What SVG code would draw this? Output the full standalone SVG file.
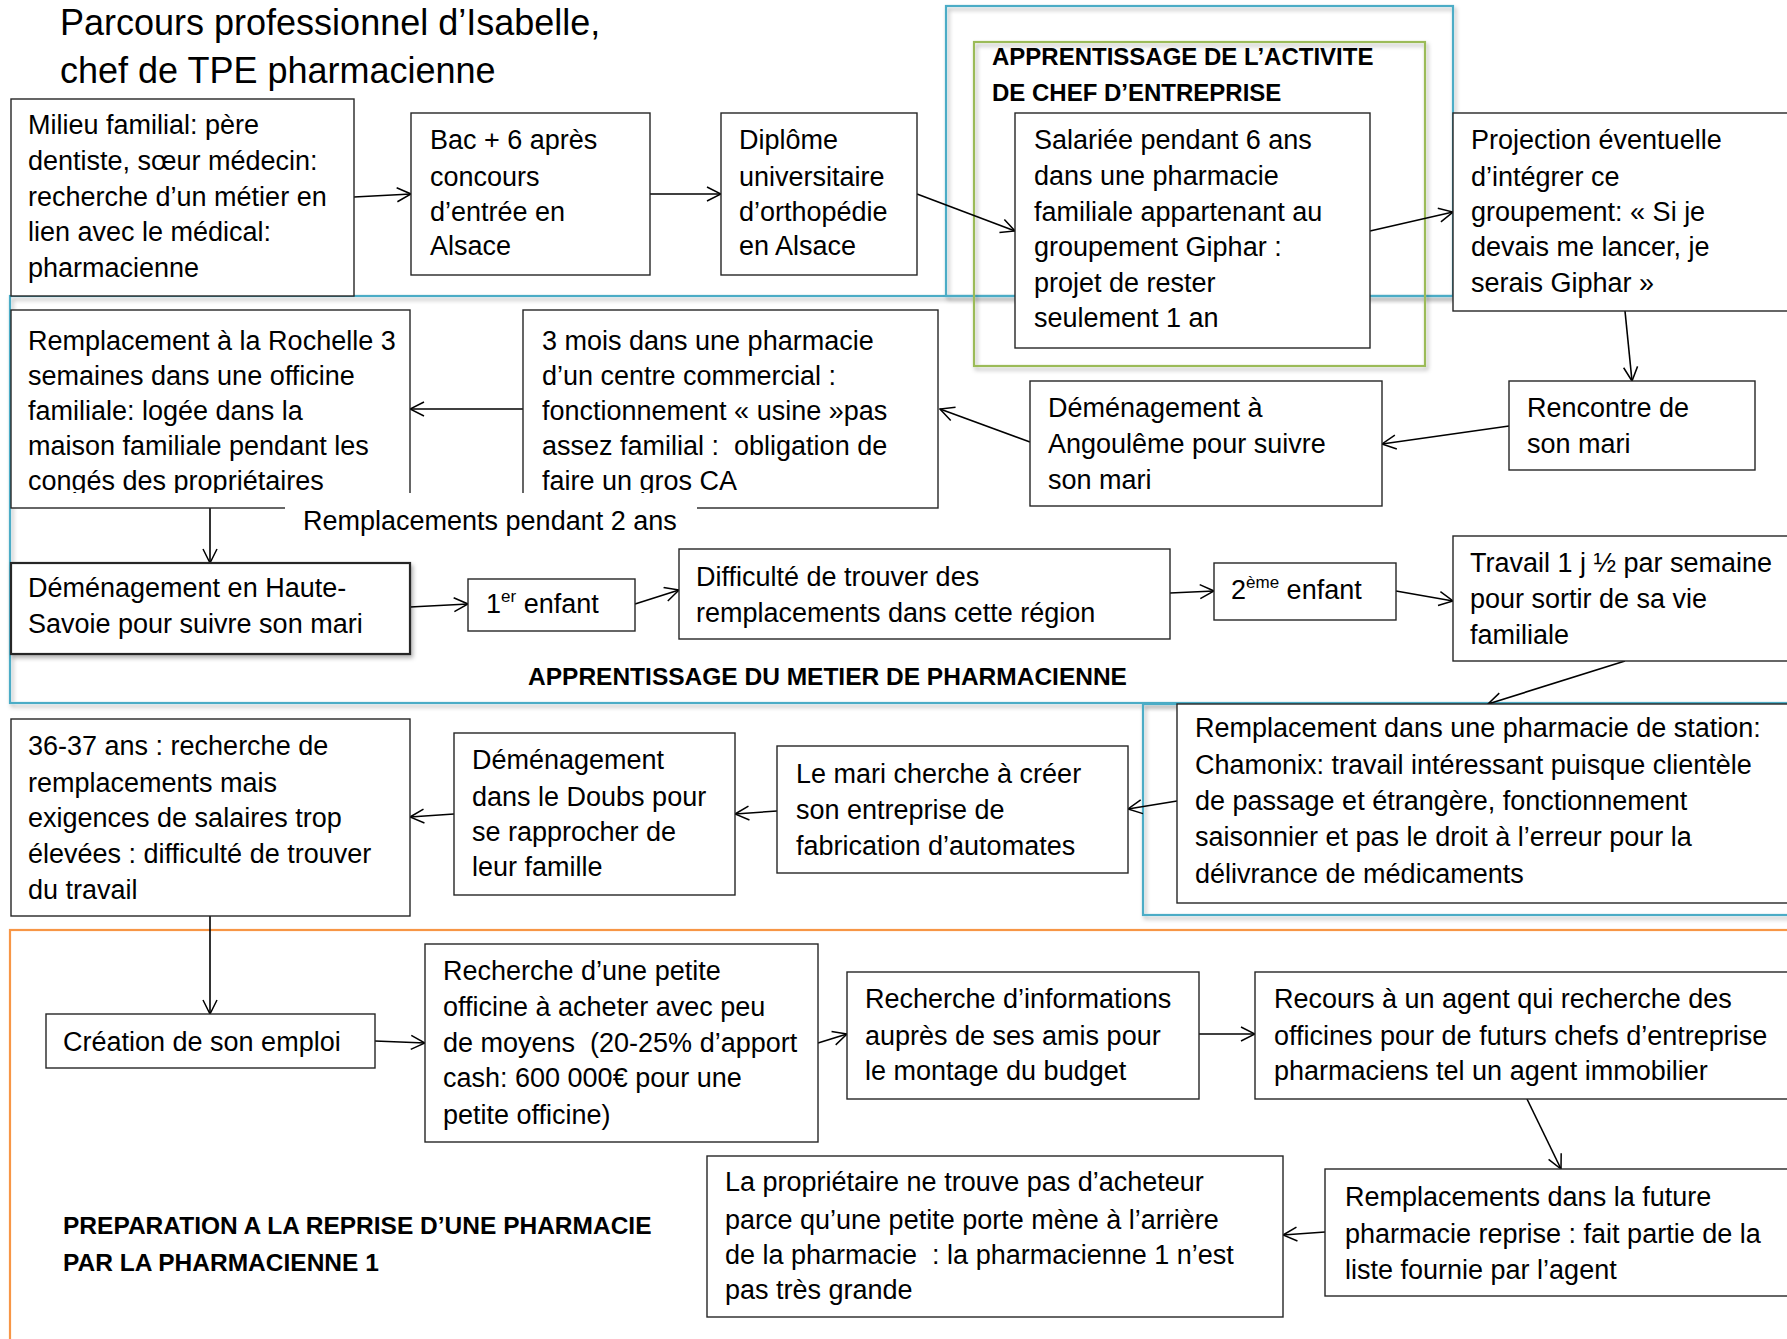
<svg xmlns="http://www.w3.org/2000/svg" width="1787" height="1339" viewBox="0 0 1787 1339">
<style>
.box{fill:#fff;stroke:#262626;stroke-width:1.4}
.t{font-family:"Liberation Sans",Arial,sans-serif;font-size:27px;fill:#000;white-space:pre}
.b{font-family:"Liberation Sans",Arial,sans-serif;font-size:24px;font-weight:bold;fill:#000}
.title{font-family:"Liberation Sans",Arial,sans-serif;font-size:36px;fill:#000}
.conn{stroke:#000;stroke-width:1.6;fill:none;marker-end:url(#arr)}
.blue{fill:none;stroke:#4bacc6;stroke-width:2.2}
.green{fill:none;stroke:#9bbb59;stroke-width:2.2}
.orange{fill:none;stroke:#f79646;stroke-width:2.2}
</style>
<defs>
<marker id="arr" viewBox="0 0 16 16" refX="15" refY="8" markerWidth="16" markerHeight="16" markerUnits="userSpaceOnUse" orient="auto">
<path d="M1,1 L15,8 L1,15" fill="none" stroke="#000" stroke-width="1.5"/>
</marker>
<filter id="sh" x="-5%" y="-5%" width="110%" height="115%">
<feDropShadow dx="2" dy="3" stdDeviation="2" flood-color="#000" flood-opacity="0.3"/>
</filter>
</defs>
<rect width="1787" height="1339" fill="#fff"/>

<g id="sections">
<rect class="blue" x="10" y="296" width="1800" height="407" filter="url(#sh)"/>
<rect class="blue" x="946" y="6" width="507" height="290" filter="url(#sh)"/>
<rect class="green" x="974" y="42" width="451" height="324" filter="url(#sh)"/>
<rect class="blue" x="1143" y="704" width="700" height="211" filter="url(#sh)"/>
<rect class="orange" x="10" y="930" width="1800" height="450"/>
</g>

<g id="title">
<text class="title" x="60" y="35">Parcours professionnel d’Isabelle,</text>
<text class="title" x="60" y="83">chef de TPE pharmacienne</text>
</g>

<g id="label-activite">
<text class="b" x="992" y="65">APPRENTISSAGE DE L’ACTIVITE</text>
<text class="b" x="992" y="101">DE CHEF D’ENTREPRISE</text>
</g>
<g id="label-metier">
<text class="b" x="528" y="685" style="font-size:24.5px">APPRENTISSAGE DU METIER DE PHARMACIENNE</text>
</g>
<g id="label-reprise">
<text class="b" x="63" y="1234" style="font-size:24.5px">PREPARATION A LA REPRISE D’UNE PHARMACIE</text>
<text class="b" x="63" y="1271" style="font-size:24.5px">PAR LA PHARMACIENNE 1</text>
</g>

<g id="connectors">
<line class="conn" x1="354" y1="197" x2="411" y2="194"/>
<line class="conn" x1="650" y1="194" x2="721" y2="194"/>
<line class="conn" x1="917" y1="194" x2="1015" y2="231"/>
<line class="conn" x1="1370" y1="231" x2="1453" y2="212"/>
<line class="conn" x1="1625" y1="311" x2="1632" y2="381"/>
<line class="conn" x1="1509" y1="426" x2="1382" y2="444"/>
<line class="conn" x1="1030" y1="442" x2="940" y2="409"/>
<line class="conn" x1="523" y1="409" x2="410" y2="409"/>
<line class="conn" x1="210" y1="508" x2="210" y2="563"/>
<line class="conn" x1="410" y1="607" x2="468" y2="604"/>
<line class="conn" x1="635" y1="604" x2="679" y2="590"/>
<line class="conn" x1="1170" y1="593" x2="1214" y2="591"/>
<line class="conn" x1="1396" y1="591" x2="1453" y2="601"/>
<line class="conn" x1="1625" y1="661" x2="1488" y2="704"/>
<line class="conn" x1="1177" y1="801" x2="1128" y2="809"/>
<line class="conn" x1="777" y1="811" x2="735" y2="814"/>
<line class="conn" x1="454" y1="814" x2="410" y2="817"/>
<line class="conn" x1="210" y1="916" x2="210" y2="1014"/>
<line class="conn" x1="375" y1="1041" x2="425" y2="1043"/>
<line class="conn" x1="818" y1="1043" x2="847" y2="1034"/>
<line class="conn" x1="1199" y1="1034" x2="1255" y2="1034"/>
<line class="conn" x1="1527" y1="1099" x2="1561" y2="1169"/>
<line class="conn" x1="1325" y1="1232" x2="1283" y2="1235"/>
</g>

<g id="n-milieu">
<rect class="box" x="11" y="99" width="343" height="197"/>
<text class="t"><tspan x="28" y="134">Milieu familial: père</tspan><tspan x="28" y="170">dentiste, sœur médecin:</tspan><tspan x="28" y="206">recherche d’un métier en</tspan><tspan x="28" y="241">lien avec le médical:</tspan><tspan x="28" y="277">pharmacienne</tspan></text>
</g>
<g id="n-bac">
<rect class="box" x="411" y="113" width="239" height="162"/>
<text class="t"><tspan x="430" y="149">Bac + 6 après</tspan><tspan x="430" y="186">concours</tspan><tspan x="430" y="221">d’entrée en</tspan><tspan x="430" y="255">Alsace</tspan></text>
</g>
<g id="n-diplome">
<rect class="box" x="721" y="113" width="196" height="162"/>
<text class="t"><tspan x="739" y="149">Diplôme</tspan><tspan x="739" y="186">universitaire</tspan><tspan x="739" y="221">d’orthopédie</tspan><tspan x="739" y="255">en Alsace</tspan></text>
</g>
<g id="n-salariee">
<rect class="box" x="1015" y="113" width="355" height="235"/>
<text class="t"><tspan x="1034" y="149">Salariée pendant 6 ans</tspan><tspan x="1034" y="185">dans une pharmacie</tspan><tspan x="1034" y="221">familiale appartenant au</tspan><tspan x="1034" y="256">groupement Giphar :</tspan><tspan x="1034" y="292">projet de rester</tspan><tspan x="1034" y="327">seulement 1 an</tspan></text>
</g>
<g id="n-projection">
<rect class="box" x="1453" y="113" width="360" height="198"/>
<text class="t"><tspan x="1471" y="149">Projection éventuelle</tspan><tspan x="1471" y="186">d’intégrer ce</tspan><tspan x="1471" y="221">groupement: « Si je</tspan><tspan x="1471" y="256">devais me lancer, je</tspan><tspan x="1471" y="292">serais Giphar »</tspan></text>
</g>
<g id="n-rencontre">
<rect class="box" x="1509" y="381" width="246" height="89"/>
<text class="t"><tspan x="1527" y="417">Rencontre de</tspan><tspan x="1527" y="453">son mari</tspan></text>
</g>
<g id="n-angouleme">
<rect class="box" x="1030" y="381" width="352" height="125"/>
<text class="t"><tspan x="1048" y="417">Déménagement à</tspan><tspan x="1048" y="453">Angoulême pour suivre</tspan><tspan x="1048" y="489">son mari</tspan></text>
</g>
<g id="n-troismois">
<rect class="box" x="523" y="310" width="415" height="198"/>
<text class="t"><tspan x="542" y="350">3 mois dans une pharmacie</tspan><tspan x="542" y="385">d’un centre commercial :</tspan><tspan x="542" y="420">fonctionnement « usine »pas</tspan><tspan x="542" y="455">assez familial :  obligation de</tspan><tspan x="542" y="490">faire un gros CA</tspan></text>
</g>
<g id="n-rochelle">
<rect class="box" x="11" y="310" width="399" height="198"/>
<text class="t"><tspan x="28" y="350">Remplacement à la Rochelle 3</tspan><tspan x="28" y="385">semaines dans une officine</tspan><tspan x="28" y="420">familiale: logée dans la</tspan><tspan x="28" y="455">maison familiale pendant les</tspan><tspan x="28" y="490">congés des propriétaires</tspan></text>
<rect x="13" y="493" width="396" height="14" fill="#fff"/>
</g>
<g id="n-label-remplacements">
<rect x="285" y="493" width="412" height="40" fill="#fff"/>
<text class="t" x="303" y="530">Remplacements pendant 2 ans</text>
</g>
<g id="n-hautesavoie">
<rect class="box" x="11" y="563" width="399" height="91" style="stroke-width:2.2" filter="url(#sh)"/>
<text class="t"><tspan x="28" y="597">Déménagement en Haute-</tspan><tspan x="28" y="633">Savoie pour suivre son mari</tspan></text>
</g>
<g id="n-enfant1">
<rect class="box" x="468" y="579" width="167" height="52"/>
<text class="t" x="486" y="613">1<tspan font-size="17" dy="-11">er</tspan><tspan dy="11"> enfant</tspan></text>
</g>
<g id="n-difficulte">
<rect class="box" x="679" y="549" width="491" height="90"/>
<text class="t"><tspan x="696" y="586">Difficulté de trouver des</tspan><tspan x="696" y="622">remplacements dans cette région</tspan></text>
</g>
<g id="n-enfant2">
<rect class="box" x="1214" y="563" width="182" height="57"/>
<text class="t" x="1231" y="599">2<tspan font-size="17" dy="-11">ème</tspan><tspan dy="11"> enfant</tspan></text>
</g>
<g id="n-travail">
<rect class="box" x="1453" y="536" width="360" height="125"/>
<text class="t"><tspan x="1470" y="572">Travail 1 j ½ par semaine</tspan><tspan x="1470" y="608">pour sortir de sa vie</tspan><tspan x="1470" y="644">familiale</tspan></text>
</g>
<g id="n-station">
<rect class="box" x="1177" y="704" width="640" height="199"/>
<text class="t"><tspan x="1195" y="737">Remplacement dans une pharmacie de station:</tspan><tspan x="1195" y="774">Chamonix: travail intéressant puisque clientèle</tspan><tspan x="1195" y="810">de passage et étrangère, fonctionnement</tspan><tspan x="1195" y="846">saisonnier et pas le droit à l’erreur pour la</tspan><tspan x="1195" y="883">délivrance de médicaments</tspan></text>
</g>
<g id="n-mari">
<rect class="box" x="777" y="746" width="351" height="127"/>
<text class="t"><tspan x="796" y="783">Le mari cherche à créer</tspan><tspan x="796" y="819">son entreprise de</tspan><tspan x="796" y="855">fabrication d’automates</tspan></text>
</g>
<g id="n-doubs">
<rect class="box" x="454" y="733" width="281" height="162"/>
<text class="t"><tspan x="472" y="769">Déménagement</tspan><tspan x="472" y="806">dans le Doubs pour</tspan><tspan x="472" y="841">se rapprocher de</tspan><tspan x="472" y="876">leur famille</tspan></text>
</g>
<g id="n-age">
<rect class="box" x="11" y="719" width="399" height="197"/>
<text class="t"><tspan x="28" y="755">36-37 ans : recherche de</tspan><tspan x="28" y="792">remplacements mais</tspan><tspan x="28" y="827">exigences de salaires trop</tspan><tspan x="28" y="863">élevées : difficulté de trouver</tspan><tspan x="28" y="899">du travail</tspan></text>
</g>
<g id="n-creation">
<rect class="box" x="46" y="1014" width="329" height="54"/>
<text class="t" x="63" y="1051">Création de son emploi</text>
</g>
<g id="n-recherche">
<rect class="box" x="425" y="944" width="393" height="198"/>
<text class="t"><tspan x="443" y="980">Recherche d’une petite</tspan><tspan x="443" y="1016">officine à acheter avec peu</tspan><tspan x="443" y="1052">de moyens  (20-25% d’apport</tspan><tspan x="443" y="1087">cash: 600 000€ pour une</tspan><tspan x="443" y="1124">petite officine)</tspan></text>
</g>
<g id="n-infos">
<rect class="box" x="847" y="972" width="352" height="127"/>
<text class="t"><tspan x="865" y="1008">Recherche d’informations</tspan><tspan x="865" y="1045">auprès de ses amis pour</tspan><tspan x="865" y="1080">le montage du budget</tspan></text>
</g>
<g id="n-recours">
<rect class="box" x="1255" y="972" width="560" height="127"/>
<text class="t"><tspan x="1274" y="1008">Recours à un agent qui recherche des</tspan><tspan x="1274" y="1045">officines pour de futurs chefs d’entreprise</tspan><tspan x="1274" y="1080">pharmaciens tel un agent immobilier</tspan></text>
</g>
<g id="n-future">
<rect class="box" x="1325" y="1169" width="490" height="127"/>
<text class="t"><tspan x="1345" y="1206">Remplacements dans la future</tspan><tspan x="1345" y="1243">pharmacie reprise : fait partie de la</tspan><tspan x="1345" y="1279">liste fournie par l’agent</tspan></text>
</g>
<g id="n-proprietaire">
<rect class="box" x="707" y="1156" width="576" height="161"/>
<text class="t"><tspan x="725" y="1191">La propriétaire ne trouve pas d’acheteur</tspan><tspan x="725" y="1229">parce qu’une petite porte mène à l’arrière</tspan><tspan x="725" y="1264">de la pharmacie  : la pharmacienne 1 n’est</tspan><tspan x="725" y="1299">pas très grande</tspan></text>
</g>
</svg>
